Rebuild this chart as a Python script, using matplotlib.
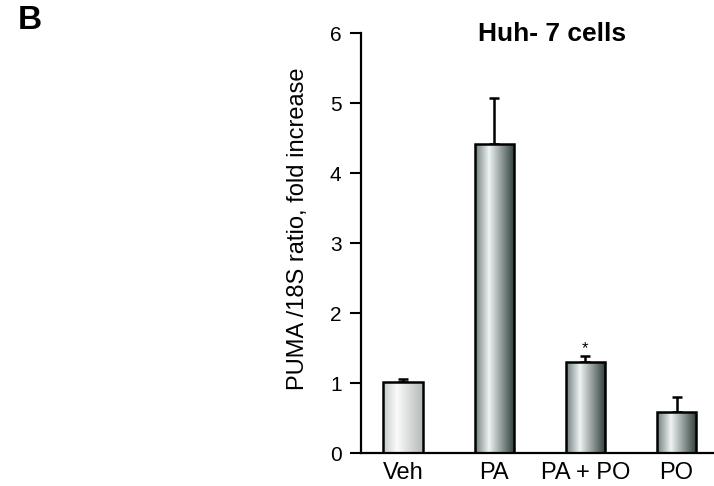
import numpy as np
import matplotlib.pyplot as plt
from matplotlib.colors import LinearSegmentedColormap

plt.rcParams['font.family'] = ['Liberation Sans', 'DejaVu Sans']

# data
groups = ['Veh', 'PA', 'PA + PO', 'PO']
means = [1.02, 4.42, 1.31, 0.59]
sem = [0.05, 0.66, 0.08, 0.22]
yticks = [0, 1, 2, 3, 4, 5, 6]

# gradient fills (light band left of centre, dark at right edge)
light_cmap = LinearSegmentedColormap.from_list(
    'light', [(0, '#c4c8c8'), (0.35, '#fbfbfb'), (1, '#b4b9b9')])
dark_cmap = LinearSegmentedColormap.from_list(
    'dark', [(0, '#6d7d7b'), (0.35, '#eef3f3'), (1, '#2c3c3a')])
cmaps = [light_cmap, dark_cmap, dark_cmap, dark_cmap]

fig = plt.figure(figsize=(7.14, 4.86), dpi=100, facecolor='white')
ax = fig.add_axes([361 / 714, 0.0669, 353 / 714, 0.8646])

x = np.arange(len(groups))
width = 0.43
bars = ax.bar(x, means, width, facecolor='none', edgecolor='black',
              linewidth=1.8, zorder=3)

grad = np.linspace(0, 1, 256).reshape(1, -1)
for b, cm in zip(bars, cmaps):
    x0, y0 = b.get_x(), b.get_y()
    im = ax.imshow(grad, cmap=cm, aspect='auto', zorder=2,
                   extent=[x0, x0 + b.get_width(), y0, y0 + b.get_height()])
    im.set_clip_path(b)

ax.errorbar(x, means, yerr=[np.zeros(len(sem)), sem], fmt='none',
            ecolor='black', elinewidth=1.8, capsize=3.5, capthick=1.8,
            zorder=1)

# significance mark over PA + PO
ax.text(x[2], means[2] + sem[2] + 0.05, '*', ha='center', va='baseline',
        fontsize=12)

ax.set_xlim(-0.46, 3.41)
ax.set_ylim(0, 6)
ax.set_yticks(yticks)
ax.set_xticks(x)
ax.set_xticklabels(groups, fontsize=17)
ax.tick_params(axis='x', length=0, pad=6)
ax.tick_params(axis='y', length=8, width=1.5, pad=6, labelsize=15)
for s in ['top', 'right']:
    ax.spines[s].set_visible(False)
for s in ['left', 'bottom']:
    ax.spines[s].set_linewidth(1.6)
ax.patch.set_alpha(0)

fig.text(298 / 714, 1 - 229 / 486, 'PUMA /18S ratio, fold increase',
         rotation=90, ha='center', va='center', fontsize=17)
fig.text(552 / 714, 1 - 40.7 / 486, 'Huh- 7 cells', ha='center',
         va='baseline', fontsize=19, fontweight='bold')
fig.text(18 / 714, 1 - 29 / 486, 'B', ha='left', va='baseline',
         fontsize=24, fontweight='bold')

fig.savefig('out.png', dpi=100, facecolor='white')
